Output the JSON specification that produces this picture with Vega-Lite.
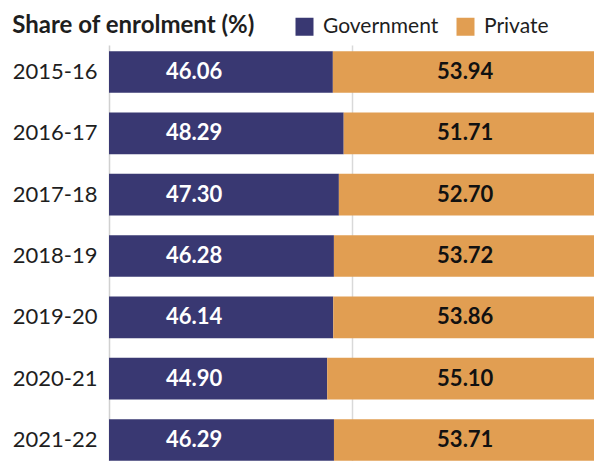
{
  "$schema": "https://vega.github.io/schema/vega-lite/v6.json",
  "autosize": {"type": "none"},
  "padding": {"left": 109, "top": 45, "right": 0, "bottom": 0},
  "width": 486,
  "height": 422,
  "background": "white",
  "config": {"font": "Lato", "view": {"stroke": null}},
  "title": {
    "text": "Share of enrolment (%)",
    "anchor": "start",
    "frame": "bounds",
    "fontSize": 24,
    "fontWeight": "bold",
    "color": "#1e1e1e",
    "font": "Lato",
    "offset": -22
  },
  "data": {
    "values": [
      {"year": "2015-16", "type": "Government", "share": 46.06},
      {"year": "2015-16", "type": "Private", "share": 53.94},
      {"year": "2016-17", "type": "Government", "share": 48.29},
      {"year": "2016-17", "type": "Private", "share": 51.71},
      {"year": "2017-18", "type": "Government", "share": 47.30},
      {"year": "2017-18", "type": "Private", "share": 52.70},
      {"year": "2018-19", "type": "Government", "share": 46.28},
      {"year": "2018-19", "type": "Private", "share": 53.72},
      {"year": "2019-20", "type": "Government", "share": 46.14},
      {"year": "2019-20", "type": "Private", "share": 53.86},
      {"year": "2020-21", "type": "Government", "share": 44.90},
      {"year": "2020-21", "type": "Private", "share": 55.10},
      {"year": "2021-22", "type": "Government", "share": 46.29},
      {"year": "2021-22", "type": "Private", "share": 53.71}
    ]
  },
  "encoding": {
    "y": {
      "field": "year",
      "type": "nominal",
      "title": null,
      "scale": {"paddingInner": 0.32, "paddingOuter": 0.1},
      "axis": {
        "ticks": false,
        "domain": true,
        "domainColor": "#d0d0d0",
        "domainWidth": 1.5,
        "labelFontSize": 22,
        "labelColor": "#1e1e1e",
        "labelPadding": 12,
        "labelFont": "Lato"
      }
    }
  },
  "layer": [
    {
      "mark": {"type": "bar"},
      "encoding": {
        "x": {
          "field": "share",
          "type": "quantitative",
          "stack": "zero",
          "title": null,
          "scale": {"domain": [0, 100], "nice": false},
          "axis": {
            "values": [50],
            "labels": false,
            "ticks": false,
            "domain": false,
            "grid": true,
            "gridColor": "#d9d9d9",
            "gridWidth": 1.5
          }
        },
        "color": {
          "field": "type",
          "type": "nominal",
          "scale": {"domain": ["Government", "Private"], "range": ["#393872", "#e19e52"]},
          "legend": {
            "title": null,
            "orient": "none",
            "direction": "horizontal",
            "legendX": 185,
            "legendY": -29,
            "symbolType": "square",
            "symbolSize": 324,
            "symbolStrokeWidth": 0,
            "symbolOpacity": 1,
            "labelFontSize": 21,
            "labelColor": "#1e1e1e",
            "labelFont": "Lato",
            "columnPadding": 16,
            "labelOffset": 8
          }
        },
        "order": {"field": "type", "sort": "ascending"}
      }
    },
    {
      "transform": [{"filter": "datum.type === 'Government'"}],
      "mark": {"type": "text", "fontSize": 22, "fontWeight": "bold", "color": "white", "align": "center", "baseline": "middle", "font": "Lato"},
      "encoding": {
        "x": {"datum": 17.5, "type": "quantitative"},
        "text": {"field": "share", "type": "quantitative", "format": ".2f"}
      }
    },
    {
      "transform": [{"filter": "datum.type === 'Private'"}],
      "mark": {"type": "text", "fontSize": 22, "fontWeight": "bold", "color": "#111111", "align": "center", "baseline": "middle", "font": "Lato"},
      "encoding": {
        "x": {"datum": 73.3, "type": "quantitative"},
        "text": {"field": "share", "type": "quantitative", "format": ".2f"}
      }
    }
  ]
}
